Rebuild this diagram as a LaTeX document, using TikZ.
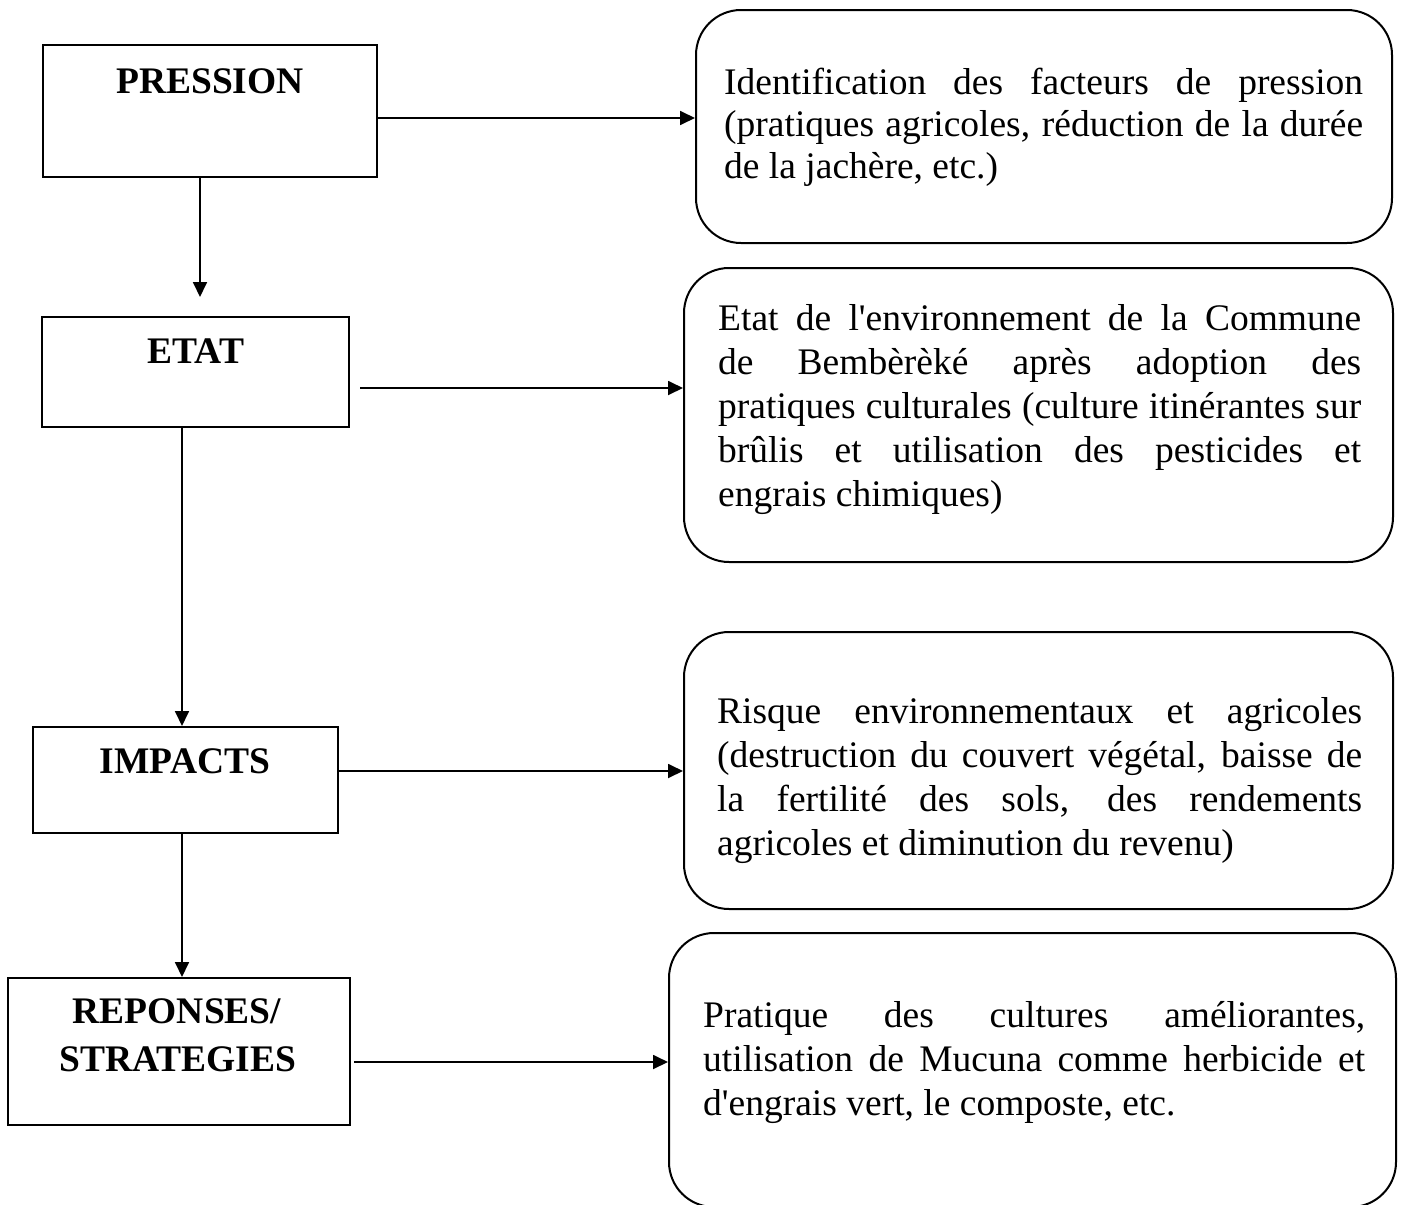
\documentclass[tikz,border=0pt]{standalone}
\usepackage{fontspec}
\setmainfont{Liberation Serif}
\usetikzlibrary{arrows.meta}
\newcommand{\jline}[1]{\makebox[\linewidth][s]{#1}}
\newcommand{\q}{\textquotesingle}
\begin{document}
\begin{tikzpicture}[x=1pt,y=-1pt,
  box/.style={draw, line width=2pt, inner sep=0pt},
  rbox/.style={box, rounded corners=45pt},
  arr/.style={line width=1.8pt, -{Triangle[length=15pt,width=14pt]}},
  lbl/.style={font=\fontsize{37.5}{48}\selectfont\bfseries, inner sep=0pt, anchor=base},
  body/.style={font=\fontsize{37.5}{44}\selectfont, inner sep=0pt, anchor=base west}]
\useasboundingbox (0,0) rectangle (1401,1205);

% left boxes
\node[box, minimum width=334pt, minimum height=132pt] (pression) at (210,111) {};
\node[box, minimum width=307pt, minimum height=110pt] (etat) at (195.5,372) {};
\node[box, minimum width=305pt, minimum height=106pt] (impacts) at (185.5,780) {};
\node[box, minimum width=342pt, minimum height=147pt] (reponses) at (179,1051.5) {};

% right boxes
\node[rbox, minimum width=696pt, minimum height=233pt] (box1) at (1044,126.5) {};
\node[rbox, minimum width=709pt, minimum height=294pt] (box2) at (1038.5,415) {};
\node[rbox, minimum width=709pt, minimum height=277pt] (box3) at (1038.5,770.5) {};
\node[rbox, minimum width=727pt, minimum height=274pt] (box4) at (1032.5,1070) {};

% labels
\node[lbl] (lp) at (210,93) {PRESSION};
\node[lbl] (le) at (196,363) {ETAT};
\node[lbl] (li) at (185,773) {IMPACTS};
\node[lbl] (lr1) at (177,1023) {REPONSES/};
\node[lbl] (lr2) at (178,1071) {STRATEGIES};

% body texts
\node[body, font=\fontsize{37.5}{42}\selectfont] (t1) at (724,94) {\parbox[t]{639pt}{%
\jline{Identification des facteurs de pression}\\
\jline{(pratiques agricoles, réduction de la durée}\\
de la jachère, etc.)}};
\node[body] (t2) at (718,330) {\parbox[t]{643pt}{%
\jline{Etat de l\q environnement de la Commune}\\
\jline{de Bembèrèké après adoption des}\\
\jline{pratiques culturales (culture itinérantes sur}\\
\jline{brûlis et utilisation des pesticides et}\\
engrais chimiques)}};
\node[body] (t3) at (717,723) {\parbox[t]{645pt}{%
\jline{Risque environnementaux et agricoles}\\
\jline{(destruction du couvert végétal, baisse de}\\
\jline{la fertilité des sols, des rendements}\\
agricoles et diminution du revenu)}};
\node[body] (t4) at (703,1027) {\parbox[t]{662pt}{%
\jline{Pratique des cultures améliorantes,}\\
\jline{utilisation de Mucuna comme herbicide et}\\
d\q engrais vert, le composte, etc.}};

% helper coordinates
\coordinate (ya) at (0,118);
\coordinate (yb) at (0,388);
\coordinate (yc) at (0,771);
\coordinate (yd) at (0,1062);
\coordinate (xa) at (200,0);
\coordinate (xb) at (182,0);

% connectors
\draw[arr] (pression.east |- ya) -- (box1.west |- ya);
\draw[arr, shorten >=19pt] (pression.south -| xa) -- (etat.north -| xa);
\draw[arr, shorten <=10pt] (etat.east |- yb) -- (box2.west |- yb);
\draw[arr] (etat.south -| xb) -- (impacts.north -| xb);
\draw[arr] (impacts.east |- yc) -- (box3.west |- yc);
\draw[arr] (impacts.south -| xb) -- (reponses.north -| xb);
\draw[arr, shorten <=3pt] (reponses.east |- yd) -- (box4.west |- yd);
\end{tikzpicture}
\end{document}
